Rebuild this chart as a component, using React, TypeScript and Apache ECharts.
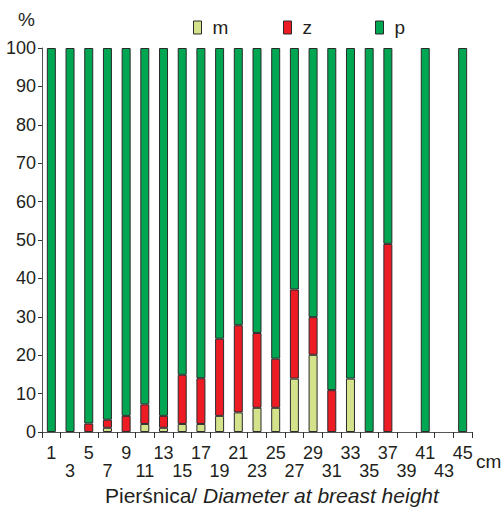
import React, { useEffect, useRef } from "react";
import * as echarts from "echarts";

const categories = ["1","3","5","7","9","11","13","15","17","19","21","23","25","27","29","31","33","35","37","39","41","43","45"];
const mValues = [null,null,null,1.1,null,2.1,1.1,2.1,2.1,4.2,5.1,6.3,6.3,13.9,20.1,null,13.9,null,null,null,null,null,null];
const zValues = [null,null,2.2,2.1,4.2,5.1,3.1,12.8,11.9,20.1,22.7,19.5,12.8,23.2,9.8,10.9,null,null,49.0,null,null,null,null];
const pValues = [100,100,97.8,96.8,95.8,92.8,95.8,85.1,86.0,75.7,72.2,74.2,80.9,62.9,70.1,89.1,86.1,100,51.0,null,100,null,100];
const yTicks = [0,10,20,30,40,50,60,70,80,90,100];

const FONT = "'Liberation Sans', Arial, sans-serif";
const COLORS = { m: "#d5e28c", z: "#ed1c24", p: "#00a651" };
const BORDER = "#2a2a2a";

export default function App() {
  const ref = useRef<HTMLDivElement>(null);
  useEffect(() => {
    if (!ref.current) return;
    const chart = echarts.init(ref.current, null, { renderer: "svg" });
    const mkSeries = (name: string, data: (number | null)[], color: string) => ({
      name,
      type: "bar",
      stack: "total",
      data,
      barWidth: 9,
      itemStyle: { color, borderColor: BORDER, borderWidth: 1 },
    });
    const mkLegend = (name: string, left: number) => ({
      data: [name],
      left,
      top: 13,
      itemWidth: 8,
      itemHeight: 13,
      icon: "rect",
      itemStyle: { borderColor: BORDER, borderWidth: 1 },
      textStyle: { fontFamily: FONT, fontSize: 19, color: "#231f20", padding: [0, 0, 0, 6] },
      selectedMode: false,
    });
    chart.setOption({
      animation: false,
      grid: { left: 42, right: 31, top: 48, bottom: 77, containLabel: false },
      legend: [mkLegend("m", 188), mkLegend("z", 278), mkLegend("p", 370)],
      xAxis: {
        type: "category",
        data: categories,
        axisLine: { lineStyle: { color: "#555", width: 1 } },
        axisTick: { show: true, length: 6, lineStyle: { color: "#333" } },
        axisLabel: {
          interval: 0,
          fontFamily: FONT,
          fontSize: 18,
          color: "#231f20",
          lineHeight: 18,
          margin: 12,
          formatter: (v: string, i: number) => (i % 2 === 0 ? v + "\n " : " \n" + v),
        },
      },
      yAxis: {
        type: "value",
        min: 0,
        max: 100,
        interval: 10,
        splitLine: { show: false },
        axisLine: { show: true, lineStyle: { color: "#555", width: 1 } },
        axisTick: { show: true, length: 4, lineStyle: { color: "#333" } },
        axisLabel: {
          fontFamily: FONT,
          fontSize: 18,
          color: "#231f20",
          margin: 6,
          formatter: (v: number) => (yTicks.includes(v) ? String(v) : ""),
        },
      },
      series: [
        mkSeries("m", mValues, COLORS.m),
        mkSeries("z", zValues, COLORS.z),
        mkSeries("p", pValues, COLORS.p),
      ],
      graphic: [
        {
          type: "text",
          left: 18,
          top: 10,
          style: { text: "%", fontFamily: FONT, fontSize: 19, fill: "#231f20" },
        },
        {
          type: "text",
          left: 476,
          top: 452,
          style: { text: "cm", fontFamily: FONT, fontSize: 19, fill: "#231f20" },
        },
        {
          type: "text",
          left: 105,
          top: 485,
          style: {
            text: "{a|Pierśnica/ }{b|Diameter at breast height}",
            rich: {
              a: { fontFamily: FONT, fontSize: 21, fill: "#231f20" },
              b: { fontFamily: FONT, fontSize: 21, fontStyle: "italic", fill: "#231f20" },
            },
          },
        },
      ],
    });
    return () => chart.dispose();
  }, []);
  return <div ref={ref} style={{ width: 503, height: 509, position: "absolute", left: 0, top: 0 }} />;
}
